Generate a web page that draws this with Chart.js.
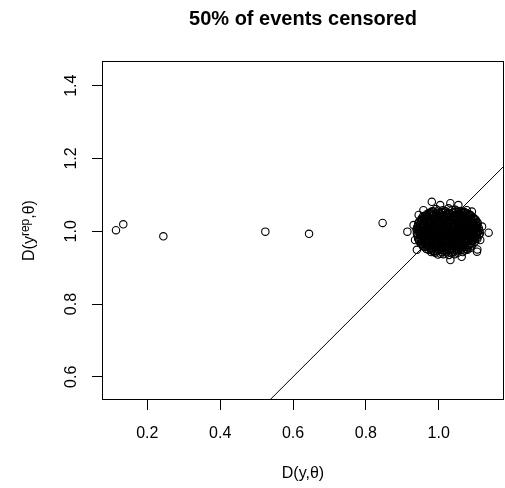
<!DOCTYPE html>
<html>
<head>
<meta charset="utf-8">
<script src="https://cdn.jsdelivr.net/npm/chart.js@4/dist/chart.umd.min.js"></script>
<style>
  html, body { margin: 0; padding: 0; background: #fff; }
  canvas { display: block; }
</style>
</head>
<body>
<canvas id="c" width="505" height="488"></canvas>
<script>
// ---- Data ----
const chartTitle = "50% of events censored";
const xTitle = ["D(y,\u03B8)"];
const yTitleParts = ["D(y", "rep", ",\u03B8)"];
const xTickValues = [0.2, 0.4, 0.6, 0.8, 1.0];
const yTickValues = [0.6, 0.8, 1.0, 1.2, 1.4];
const xRange = [0.0756, 1.1792];
const yRange = [0.5363, 1.4679];
// reference line y = x (abline(0,1))
const refLine = [[0.3, 0.3], [1.4, 1.4]];

// isolated points [D(y,theta), D(yrep,theta)]
const outlierPoints = [
  [0.114, 1.003], [0.134, 1.019], [0.244, 0.986], [0.524, 0.999],
  [0.644, 0.993], [0.846, 1.023], [0.914, 0.999], [1.137, 0.996]
];

// edge points of the dense cloud
const cloudEdgePoints = [
  [0.981, 1.081], [1.004, 1.072], [1.032, 1.077], [1.054, 1.072], [1.077, 1.058],
  [1.091, 1.054], [0.958, 1.058], [0.945, 1.045], [0.931, 1.017], [0.935, 0.976],
  [0.940, 0.949], [1.032, 0.921], [0.986, 0.944], [1.063, 0.930], [1.105, 0.944],
  [1.106, 0.950], [1.119, 1.013], [1.114, 0.976]
];

// dense cloud near (1, 1)
const cloudPoints = [
  [0.992,1.061],[1.011,1.058],[1.027,1.063],[1.046,1.059],[1.061,1.056],
  [0.973,1.050],[0.986,1.054],[1.002,1.051],[1.018,1.055],[1.031,1.049],[1.047,1.053],[1.063,1.051],[1.078,1.048],
  [0.962,1.042],[0.975,1.046],[0.991,1.043],[1.005,1.047],[1.019,1.041],[1.034,1.045],[1.049,1.043],[1.061,1.046],[1.076,1.042],[1.088,1.044],
  [0.953,1.035],[0.968,1.038],[0.981,1.034],[0.996,1.037],[1.009,1.033],[1.024,1.038],[1.038,1.035],[1.052,1.039],[1.066,1.034],[1.081,1.037],[1.096,1.035],
  [0.947,1.027],[0.961,1.030],[0.975,1.026],[0.988,1.029],[1.003,1.025],[1.016,1.030],[1.029,1.027],[1.044,1.031],[1.057,1.026],[1.071,1.029],[1.087,1.027],[1.102,1.030],
  [0.944,1.021],[0.958,1.018],[0.971,1.022],[0.985,1.019],[0.999,1.023],[1.012,1.018],[1.026,1.021],[1.040,1.017],[1.053,1.022],[1.068,1.019],[1.081,1.021],[1.095,1.018],[1.107,1.022],
  [0.941,1.011],[0.955,1.014],[0.968,1.010],[0.982,1.013],[0.995,1.009],[1.009,1.014],[1.022,1.011],[1.036,1.013],[1.050,1.010],[1.063,1.014],[1.077,1.011],[1.091,1.013],[1.104,1.010],
  [0.939,1.005],[0.952,1.002],[0.966,1.006],[0.979,1.003],[0.993,1.005],[1.006,1.002],[1.020,1.006],[1.033,1.003],[1.047,1.005],[1.061,1.001],[1.074,1.006],[1.088,1.003],[1.101,1.005],[1.112,1.002],
  [0.940,0.995],[0.954,0.998],[0.967,0.994],[0.981,0.997],[0.994,0.995],[1.008,0.998],[1.021,0.994],[1.035,0.997],[1.048,0.996],[1.062,0.993],[1.076,0.997],[1.089,0.995],[1.103,0.998],[1.113,0.994],
  [0.942,0.989],[0.956,0.986],[0.969,0.990],[0.983,0.987],[0.997,0.989],[1.010,0.985],[1.024,0.990],[1.037,0.987],[1.051,0.989],[1.065,0.986],[1.078,0.990],[1.092,0.987],[1.105,0.989],
  [0.944,0.979],[0.957,0.982],[0.971,0.978],[0.985,0.981],[0.998,0.979],[1.012,0.982],[1.025,0.978],[1.039,0.981],[1.053,0.979],[1.066,0.983],[1.080,0.978],[1.094,0.981],[1.106,0.979],
  [0.947,0.973],[0.960,0.970],[0.974,0.974],[0.988,0.971],[1.001,0.973],[1.015,0.969],[1.028,0.974],[1.042,0.971],[1.056,0.973],[1.069,0.970],[1.083,0.974],[1.099,0.971],
  [0.953,0.965],[0.967,0.962],[0.980,0.966],[0.994,0.963],[1.007,0.965],[1.021,0.961],[1.034,0.966],[1.048,0.963],[1.062,0.965],[1.076,0.962],[1.092,0.964],
  [0.961,0.957],[0.975,0.954],[0.989,0.958],[1.003,0.955],[1.016,0.957],[1.030,0.953],[1.044,0.958],[1.058,0.955],[1.072,0.957],[1.087,0.954],
  [0.972,0.949],[0.986,0.946],[1.000,0.950],[1.013,0.947],[1.027,0.949],[1.041,0.945],[1.055,0.950],[1.069,0.947],[1.079,0.949],
  [0.990,0.941],[1.005,0.938],[1.021,0.942],[1.036,0.939],[1.052,0.941]
];

// more points filling the cloud
const cloudPoints2 = [
  [0.982,1.055],[0.999,1.057],[1.019,1.054],[1.037,1.058],[1.054,1.055],[1.070,1.053],
  [0.967,1.047],[0.980,1.049],[0.994,1.046],[1.010,1.050],[1.025,1.047],[1.040,1.049],[1.055,1.046],[1.070,1.050],[1.084,1.047],
  [0.957,1.041],[0.972,1.039],[0.986,1.042],[1.000,1.038],[1.014,1.041],[1.028,1.040],[1.043,1.038],[1.057,1.042],[1.072,1.039],[1.086,1.041],[1.095,1.038],
  [0.951,1.031],[0.964,1.033],[0.978,1.030],[0.992,1.034],[1.006,1.031],[1.020,1.033],[1.033,1.030],[1.047,1.034],[1.061,1.031],[1.075,1.033],[1.090,1.030],[1.100,1.033],
  [0.946,1.025],[0.960,1.023],[0.973,1.026],[0.987,1.022],[1.001,1.025],[1.014,1.023],[1.028,1.026],[1.042,1.022],[1.055,1.025],[1.069,1.023],[1.083,1.026],[1.097,1.022],[1.106,1.025],
  [0.943,1.015],[0.956,1.017],[0.970,1.014],[0.984,1.017],[0.997,1.015],[1.011,1.016],[1.024,1.014],[1.038,1.017],[1.052,1.015],[1.065,1.017],[1.079,1.014],[1.093,1.016],[1.106,1.015],
  [0.941,1.007],[0.954,1.009],[0.967,1.006],[0.981,1.009],[0.995,1.007],[1.008,1.009],[1.022,1.006],[1.035,1.008],[1.049,1.007],[1.062,1.009],[1.076,1.006],[1.090,1.008],[1.103,1.007],[1.110,1.009],
  [0.946,1.001],[0.959,0.999],[0.973,1.001],[0.987,0.999],[1.000,1.002],[1.014,0.999],[1.027,1.001],[1.041,0.998],[1.055,1.001],[1.068,0.999],[1.082,1.001],[1.096,0.999],[1.108,1.001],
  [0.941,0.991],[0.955,0.993],[0.968,0.991],[0.982,0.993],[0.995,0.990],[1.009,0.993],[1.023,0.991],[1.036,0.993],[1.050,0.991],[1.064,0.990],[1.077,0.993],[1.091,0.991],[1.104,0.993],[1.111,0.990],
  [0.943,0.983],[0.957,0.985],[0.970,0.983],[0.984,0.985],[0.998,0.982],[1.011,0.985],[1.025,0.983],[1.039,0.985],[1.052,0.983],[1.066,0.984],[1.080,0.982],[1.093,0.985],[1.105,0.983],
  [0.946,0.975],[0.959,0.977],[0.973,0.975],[0.986,0.977],[1.000,0.975],[1.014,0.977],[1.027,0.975],[1.041,0.977],[1.054,0.975],[1.068,0.977],[1.082,0.975],[1.097,0.977],
  [0.950,0.967],[0.964,0.969],[0.977,0.967],[0.991,0.969],[1.004,0.967],[1.018,0.969],[1.031,0.967],[1.045,0.969],[1.059,0.967],[1.073,0.969],[1.088,0.967],
  [0.957,0.959],[0.970,0.961],[0.984,0.959],[0.998,0.961],[1.011,0.959],[1.025,0.961],[1.039,0.959],[1.053,0.961],[1.067,0.959],[1.081,0.961],[1.090,0.959],
  [0.966,0.951],[0.980,0.953],[0.994,0.951],[1.008,0.953],[1.022,0.951],[1.036,0.953],[1.050,0.951],[1.064,0.953],[1.077,0.951],
  [0.979,0.943],[0.994,0.945],[1.008,0.943],[1.022,0.945],[1.037,0.943],[1.051,0.945],[1.066,0.943],
  [0.998,0.936],[1.013,0.937],[1.028,0.935],[1.044,0.937]
];

// core of the cloud (densest part)
const cloudPoints3 = [
  [0.979,1.053],[0.994,1.051],[1.010,1.053],[1.025,1.050],[1.039,1.052],[1.055,1.051],[1.070,1.053],
  [0.968,1.045],[0.983,1.043],[0.998,1.045],[1.012,1.044],[1.026,1.046],[1.041,1.043],[1.055,1.045],[1.068,1.044],[1.082,1.045],
  [0.960,1.037],[0.974,1.035],[0.988,1.037],[1.002,1.036],[1.016,1.037],[1.031,1.035],[1.045,1.037],[1.059,1.036],[1.073,1.037],[1.088,1.035],
  [0.954,1.029],[0.968,1.027],[0.981,1.029],[0.995,1.028],[1.009,1.029],[1.022,1.027],[1.036,1.029],[1.050,1.028],[1.064,1.029],[1.079,1.027],[1.094,1.029],
  [0.951,1.021],[0.964,1.019],[0.978,1.021],[0.992,1.020],[1.005,1.021],[1.019,1.019],[1.033,1.021],[1.046,1.020],[1.060,1.021],[1.074,1.019],[1.088,1.021],[1.101,1.020],
  [0.948,1.013],[0.961,1.011],[0.975,1.013],[0.988,1.012],[1.002,1.013],[1.015,1.011],[1.029,1.013],[1.043,1.012],[1.056,1.013],[1.070,1.011],[1.084,1.013],[1.097,1.012],
  [0.945,1.005],[0.959,1.003],[0.972,1.005],[0.986,1.004],[0.999,1.005],[1.013,1.003],[1.026,1.005],[1.040,1.004],[1.054,1.005],[1.067,1.003],[1.081,1.005],[1.094,1.004],[1.106,1.005],
  [0.947,0.997],[0.960,0.995],[0.974,0.997],[0.987,0.996],[1.001,0.997],[1.014,0.995],[1.028,0.997],[1.041,0.996],[1.055,0.997],[1.069,0.995],[1.082,0.997],[1.096,0.996],[1.108,0.997],
  [0.949,0.989],[0.962,0.987],[0.976,0.989],[0.990,0.988],[1.003,0.989],[1.017,0.987],[1.030,0.989],[1.044,0.988],[1.058,0.989],[1.071,0.987],[1.085,0.989],[1.098,0.988],
  [0.950,0.981],[0.964,0.979],[0.978,0.981],[0.991,0.980],[1.005,0.981],[1.018,0.979],[1.032,0.981],[1.046,0.980],[1.059,0.981],[1.073,0.979],[1.087,0.981],[1.100,0.980],
  [0.954,0.973],[0.967,0.971],[0.981,0.973],[0.994,0.972],[1.008,0.973],[1.021,0.971],[1.035,0.973],[1.049,0.972],[1.062,0.973],[1.076,0.971],[1.091,0.973],
  [0.960,0.965],[0.973,0.963],[0.987,0.965],[1.000,0.964],[1.014,0.965],[1.028,0.963],[1.041,0.965],[1.055,0.964],[1.069,0.965],[1.084,0.963],
  [0.968,0.957],[0.982,0.955],[0.996,0.957],[1.009,0.956],[1.023,0.957],[1.037,0.955],[1.051,0.957],[1.065,0.956],[1.079,0.957],
  [0.979,0.949],[0.993,0.947],[1.006,0.949],[1.020,0.948],[1.034,0.949],[1.048,0.947],[1.062,0.949]
];

// ---- Chart ----
const FONT = "'Liberation Sans', Arial, Helvetica, sans-serif";
Chart.defaults.font.family = FONT;
Chart.defaults.color = '#000';

const toXY = arr => arr.map(p => ({ x: p[0], y: p[1] }));
const allPoints = outlierPoints.concat(cloudEdgePoints, cloudPoints, cloudPoints2, cloudPoints3);

const annotate = {
  id: 'annotate',
  beforeDraw(chart) {
    const ctx = chart.ctx;
    ctx.save();
    ctx.fillStyle = '#fff';
    ctx.fillRect(0, 0, chart.width, chart.height);
    ctx.restore();
  },
  afterDraw(chart) {
    const ctx = chart.ctx;
    const a = chart.chartArea;
    const cx = (a.left + a.right) / 2;
    const cy = (a.top + a.bottom) / 2;
    ctx.save();
    // box
    ctx.strokeStyle = '#000';
    ctx.lineWidth = 1;
    ctx.strokeRect(a.left + 0.5, a.top + 0.5, a.right - a.left - 1, a.bottom - a.top - 1);
    // title
    ctx.fillStyle = '#000';
    ctx.font = 'bold 20px ' + FONT;
    ctx.textAlign = 'center';
    ctx.textBaseline = 'alphabetic';
    ctx.fillText(chartTitle, cx, 25);
    // x title
    ctx.font = '16px ' + FONT;
    ctx.fillText(xTitle[0], cx, 478);
    // y tick labels (rotated, as in R)
    const ys = chart.scales.y;
    ys.ticks.forEach(t => {
      const py = ys.getPixelForValue(t.value);
      ctx.save();
      ctx.translate(76, py);
      ctx.rotate(-Math.PI / 2);
      ctx.textAlign = 'center';
      ctx.fillText(t.value.toFixed(1), 0, 0);
      ctx.restore();
    });
    // y title with superscript
    ctx.save();
    ctx.translate(34, cy);
    ctx.rotate(-Math.PI / 2);
    ctx.textAlign = 'left';
    const big = '16px ' + FONT, small = '12px ' + FONT;
    ctx.font = big; const w1 = ctx.measureText(yTitleParts[0]).width;
    ctx.font = small; const w2 = ctx.measureText(yTitleParts[1]).width;
    ctx.font = big; const w3 = ctx.measureText(yTitleParts[2]).width;
    let x0 = -(w1 + w2 + w3) / 2;
    ctx.font = big; ctx.fillText(yTitleParts[0], x0, 0);
    ctx.font = small; ctx.fillText(yTitleParts[1], x0 + w1, -5.5);
    ctx.font = big; ctx.fillText(yTitleParts[2], x0 + w1 + w2, 0);
    ctx.restore();
    ctx.restore();
  }
};

new Chart(document.getElementById('c'), {
  type: 'scatter',
  data: {
    datasets: [
      {
        data: toXY(allPoints),
        pointStyle: 'circle',
        pointRadius: 3.7,
        pointBorderWidth: 1.1,
        borderColor: '#000',
        backgroundColor: 'rgba(0,0,0,0)',
        pointBackgroundColor: 'rgba(0,0,0,0)'
      },
      {
        data: toXY(refLine),
        showLine: true,
        borderColor: '#000',
        borderWidth: 1,
        pointRadius: 0
      }
    ]
  },
  options: {
    responsive: false,
    animation: false,
    events: [],
    layout: { autoPadding: false, padding: { top: 61, right: 1, left: 0, bottom: 0 } },
    plugins: { legend: { display: false }, tooltip: { enabled: false }, title: { display: false } },
    scales: {
      x: {
        type: 'linear',
        min: xRange[0],
        max: xRange[1],
        afterBuildTicks: s => { s.ticks = xTickValues.map(v => ({ value: v })); },
        afterFit: s => { s.height = 88; },
        border: { display: false },
        grid: { display: true, drawOnChartArea: false, drawTicks: true, tickLength: 10, color: '#000', tickColor: '#000', lineWidth: 1 },
        ticks: { font: { size: 16 }, color: '#000', padding: 14, maxRotation: 0, callback: v => v.toFixed(1) }
      },
      y: {
        type: 'linear',
        min: yRange[0],
        max: yRange[1],
        afterBuildTicks: s => { s.ticks = yTickValues.map(v => ({ value: v })); },
        afterFit: s => { s.width = 102; },
        border: { display: false },
        grid: { display: true, drawOnChartArea: false, drawTicks: true, tickLength: 10, color: '#000', tickColor: '#000', lineWidth: 1 },
        ticks: { display: false }
      }
    }
  },
  plugins: [annotate]
});
</script>
</body>
</html>
